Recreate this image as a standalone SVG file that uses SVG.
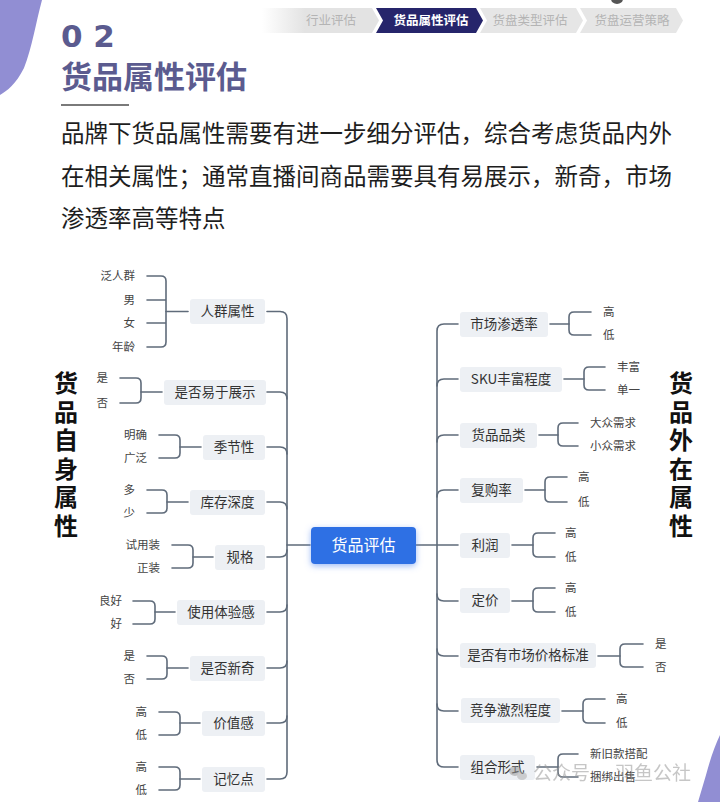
<svg xmlns="http://www.w3.org/2000/svg" width="720" height="802" viewBox="0 0 720 802">
<defs>
<style>
.cjk{font-family:"Noto Sans CJK SC","Noto Sans",sans-serif;}
.tabt{font-size:12.5px;fill:#b4b4b4;text-anchor:middle;}
.box{fill:#edf0f4;}
.lbl{font-size:13.5px;fill:#333;text-anchor:middle;}
.leafL{font-size:11.5px;fill:#444;text-anchor:end;}
.leafR{font-size:11.5px;fill:#444;text-anchor:start;}
.ln{fill:none;stroke:#5f6b7a;stroke-width:1.6;stroke-linecap:round;}
.side{font-size:24px;font-weight:700;fill:#111;writing-mode:vertical-rl;letter-spacing:4.5px;}
.para{font-size:23.5px;fill:#1e1e1e;}
</style>
<linearGradient id="fade" x1="262" y1="0" x2="305" y2="0" gradientUnits="userSpaceOnUse">
<stop offset="0" stop-color="#e3e3e3" stop-opacity="0"/>
<stop offset="1" stop-color="#e3e3e3"/>
</linearGradient>
<filter id="glow" x="-30%" y="-50%" width="160%" height="200%">
<feDropShadow dx="0" dy="2" stdDeviation="3" flood-color="#5b8ef0" flood-opacity="0.6"/>
</filter>
</defs>
<rect width="720" height="802" fill="#ffffff"/>
<!-- decorations -->
<path d="M0,0 L42,0 C36,22 32,48 24,68 C16,84 7,91 0,95 Z" fill="#918ed3"/>
<path d="M720,735 C715,745 710,760 706,775 L698,802 L720,802 Z" fill="#918ed3"/>
<ellipse cx="617" cy="-1" rx="6" ry="5" fill="#555"/>
<!-- breadcrumb -->
<g id="tabs" class="cjk">
<polygon points="262,8 372,8 379,20.5 372,33 262,33" fill="url(#fade)"/>
<text x="331" y="25" class="tabt">行业评估</text>
<polygon points="376,8 476,8 483,20.5 476,33 376,33 383,20.5" fill="#26256b"/>
<text x="431" y="25" class="tabt" style="fill:#fff;font-weight:700">货品属性评估</text>
<polygon points="480,8 576,8 583,20.5 576,33 480,33 487,20.5" fill="#e6e6e6"/>
<text x="530" y="25" class="tabt">货盘类型评估</text>
<polygon points="580,8 676,8 683,20.5 676,33 580,33 587,20.5" fill="#e6e6e6"/>
<text x="632" y="25" class="tabt">货盘运营策略</text>
</g>
<!-- title -->
<g id="title">
<text x="61" y="47" font-family="'DejaVu Sans',sans-serif" font-weight="700" font-size="31" fill="#5b5b8f">0 2</text>
<text x="61" y="88" class="cjk" font-weight="700" font-size="31" fill="#5b5b8f">货品属性评估</text>
<line x1="61" y1="105" x2="129" y2="105" stroke="#7a7a7a" stroke-width="2"/>
</g>
<g id="intro" class="cjk para">
<text x="61" y="142">品牌下货品属性需要有进一步细分评估，综合考虑货品内外</text>
<text x="61" y="185">在相关属性；通常直播间商品需要具有易展示，新奇，市场</text>
<text x="61" y="227">渗透率高等特点</text>
</g>
<!-- side labels -->
<g id="side-left" class="cjk"><text class="side" x="66" y="371">货品自身属性</text></g>
<g id="side-right" class="cjk"><text class="side" x="681" y="371">货品外在属性</text></g>
<!-- connectors -->
<g id="connectors" class="ln">
<path d="M267,311.5 H280 Q287,311.5 287,318.5 V772 Q287,779 280,779 H267"/>
<path d="M267,392 H280 Q287,392 287,399"/>
<path d="M267,447 H280 Q287,447 287,454"/>
<path d="M267,502 H280 Q287,502 287,509"/>
<path d="M267,557 H280 Q287,557 287,550"/>
<path d="M267,612 H280 Q287,612 287,605"/>
<path d="M267,668 H280 Q287,668 287,661"/>
<path d="M267,723 H280 Q287,723 287,716"/>
<path d="M287,545 H310"/>
<path d="M458,324 H444 Q437,324 437,331 V760 Q437,767 444,767 H458"/>
<path d="M437,386 Q437,379 444,379 H458"/>
<path d="M437,442 Q437,435 444,435 H458"/>
<path d="M437,497 Q437,490 444,490 H458"/>
<path d="M414,545 H458"/>
<path d="M437,594 Q437,601 444,601 H458"/>
<path d="M437,649 Q437,656 444,656 H458"/>
<path d="M437,704 Q437,711 444,711 H458"/>
<path d="M166,311.5 H188"/>
<path d="M147,276 H161 Q166,276 166,281 V342 Q166,347 161,347 H147 M147,300 H166 M147,323 H166"/>
<path d="M141,392 H162"/>
<path d="M120,378 H136 Q141,378 141,383 V398 Q141,403 136,403 H120"/>
<path d="M180,447 H201"/>
<path d="M159,435 H175 Q180,435 180,440 V453 Q180,458 175,458 H159"/>
<path d="M167,502 H188"/>
<path d="M147,490 H162 Q167,490 167,495 V508 Q167,513 162,513 H147"/>
<path d="M193,557 H213"/>
<path d="M172,545 H188 Q193,545 193,550 V563 Q193,568 188,568 H172"/>
<path d="M155,612 H175"/>
<path d="M133,601 H150 Q155,601 155,606 V619 Q155,624 150,624 H133"/>
<path d="M167,668 H188"/>
<path d="M147,656 H162 Q167,656 167,661 V674 Q167,679 162,679 H147"/>
<path d="M180,723 H200"/>
<path d="M159,712 H175 Q180,712 180,717 V730 Q180,735 175,735 H159"/>
<path d="M180,779 H200"/>
<path d="M159,767 H175 Q180,767 180,772 V785 Q180,790 175,790 H159"/>
<path d="M550,324 H569"/>
<path d="M591,312 H574 Q569,312 569,317 V330 Q569,335 574,335 H591"/>
<path d="M564,379 H584"/>
<path d="M605,367 H589 Q584,367 584,372 V385 Q584,390 589,390 H605"/>
<path d="M539,435 H558"/>
<path d="M578,423 H563 Q558,423 558,428 V441 Q558,446 563,446 H578"/>
<path d="M525,490 H545"/>
<path d="M567,477 H550 Q545,477 545,482 V497 Q545,502 550,502 H567"/>
<path d="M512,545 H533"/>
<path d="M555,533 H538 Q533,533 533,538 V552 Q533,557 538,557 H555"/>
<path d="M512,601 H533"/>
<path d="M555,588 H538 Q533,588 533,593 V607 Q533,612 538,612 H555"/>
<path d="M598,656 H620"/>
<path d="M643,644 H625 Q620,644 620,649 V662 Q620,667 625,667 H643"/>
<path d="M562,711 H583"/>
<path d="M605,699 H588 Q583,699 583,704 V718 Q583,723 588,723 H605"/>
<path d="M537,767 H558"/>
<path d="M578,754 H563 Q558,754 558,759 V772 Q558,777 563,777 H578"/>
</g>
<!-- center node -->
<g id="center" class="cjk">
<rect x="311" y="527" width="105" height="37" rx="4" fill="#2f6fe4" filter="url(#glow)"/>
<text x="363.5" y="551" font-size="16" fill="#fff" text-anchor="middle">货品评估</text>
</g>
<!-- left nodes -->
<g id="n-renqun" class="cjk"><rect class="box" x="190" y="299" width="75" height="25" rx="3"/><text class="lbl" x="227.5" y="316">人群属性</text>
<text class="leafL" x="135" y="280">泛人群</text><text class="leafL" x="135" y="304">男</text><text class="leafL" x="135" y="327">女</text><text class="leafL" x="135" y="351">年龄</text></g>
<g id="n-zhanshi" class="cjk"><rect class="box" x="164" y="380" width="102" height="25" rx="3"/><text class="lbl" x="215" y="397">是否易于展示</text>
<text class="leafL" x="108" y="382">是</text><text class="leafL" x="108" y="407">否</text></g>
<g id="n-jijie" class="cjk"><rect class="box" x="203" y="435" width="62" height="25" rx="3"/><text class="lbl" x="234" y="452">季节性</text>
<text class="leafL" x="147" y="439">明确</text><text class="leafL" x="147" y="462">广泛</text></g>
<g id="n-kucun" class="cjk"><rect class="box" x="190" y="490" width="75" height="25" rx="3"/><text class="lbl" x="227.5" y="507">库存深度</text>
<text class="leafL" x="135" y="494">多</text><text class="leafL" x="135" y="517">少</text></g>
<g id="n-guige" class="cjk"><rect class="box" x="215" y="545" width="50" height="25" rx="3"/><text class="lbl" x="240" y="562">规格</text>
<text class="leafL" x="160" y="549">试用装</text><text class="leafL" x="160" y="572">正装</text></g>
<g id="n-tiyan" class="cjk"><rect class="box" x="177" y="600" width="88" height="25" rx="3"/><text class="lbl" x="221" y="617">使用体验感</text>
<text class="leafL" x="122" y="605">良好</text><text class="leafL" x="122" y="628">好</text></g>
<g id="n-xinqi" class="cjk"><rect class="box" x="190" y="656" width="75" height="25" rx="3"/><text class="lbl" x="227.5" y="673">是否新奇</text>
<text class="leafL" x="135" y="660">是</text><text class="leafL" x="135" y="683">否</text></g>
<g id="n-jiazhi" class="cjk"><rect class="box" x="202" y="711" width="63" height="25" rx="3"/><text class="lbl" x="233.5" y="728">价值感</text>
<text class="leafL" x="147" y="716">高</text><text class="leafL" x="147" y="739">低</text></g>
<g id="n-jiyi" class="cjk"><rect class="box" x="202" y="767" width="63" height="25" rx="3"/><text class="lbl" x="233.5" y="784">记忆点</text>
<text class="leafL" x="147" y="771">高</text><text class="leafL" x="147" y="794">低</text></g>
<!-- right nodes -->
<g id="n-shentou" class="cjk"><rect class="box" x="460" y="312" width="88" height="25" rx="3"/><text class="lbl" x="504" y="329">市场渗透率</text>
<text class="leafR" x="603" y="316">高</text><text class="leafR" x="603" y="339">低</text></g>
<g id="n-sku" class="cjk"><rect class="box" x="460" y="367" width="102" height="25" rx="3"/><text class="lbl" x="511" y="384">SKU丰富程度</text>
<text class="leafR" x="617" y="371">丰富</text><text class="leafR" x="617" y="394">单一</text></g>
<g id="n-pinlei" class="cjk"><rect class="box" x="460" y="423" width="77" height="25" rx="3"/><text class="lbl" x="498.5" y="440">货品品类</text>
<text class="leafR" x="590" y="427">大众需求</text><text class="leafR" x="590" y="450">小众需求</text></g>
<g id="n-fugou" class="cjk"><rect class="box" x="460" y="478" width="63" height="25" rx="3"/><text class="lbl" x="491.5" y="495">复购率</text>
<text class="leafR" x="578" y="481">高</text><text class="leafR" x="578" y="506">低</text></g>
<g id="n-lirun" class="cjk"><rect class="box" x="460" y="533" width="50" height="25" rx="3"/><text class="lbl" x="485" y="550">利润</text>
<text class="leafR" x="565" y="537">高</text><text class="leafR" x="565" y="561">低</text></g>
<g id="n-dingjia" class="cjk"><rect class="box" x="460" y="588" width="50" height="25" rx="3"/><text class="lbl" x="485" y="605">定价</text>
<text class="leafR" x="565" y="592">高</text><text class="leafR" x="565" y="616">低</text></g>
<g id="n-biaozhun" class="cjk"><rect class="box" x="460" y="643" width="136" height="25" rx="3"/><text class="lbl" x="528" y="660">是否有市场价格标准</text>
<text class="leafR" x="655" y="648">是</text><text class="leafR" x="655" y="671">否</text></g>
<g id="n-jingzheng" class="cjk"><rect class="box" x="461" y="698" width="99" height="25" rx="3"/><text class="lbl" x="510.5" y="715">竞争激烈程度</text>
<text class="leafR" x="616" y="703">高</text><text class="leafR" x="616" y="727">低</text></g>
<g id="n-zuhe" class="cjk"><rect class="box" x="460" y="755" width="75" height="25" rx="3"/><text class="lbl" x="497.5" y="772">组合形式</text>
<text class="leafR" x="590" y="758">新旧款搭配</text><text class="leafR" x="590" y="781">捆绑出售</text></g>
<!-- watermark -->
<g id="watermark" class="cjk" opacity="0.55">
<ellipse cx="515" cy="771" rx="6" ry="5" fill="#9a9a9a"/>
<ellipse cx="522" cy="776" rx="5" ry="4" fill="#b0b0b0"/>
<text x="533" y="780" font-size="19" fill="#999">公众号</text>
<text x="615" y="780" font-size="19" fill="#999">羽鱼公社</text>
</g>
</svg>
